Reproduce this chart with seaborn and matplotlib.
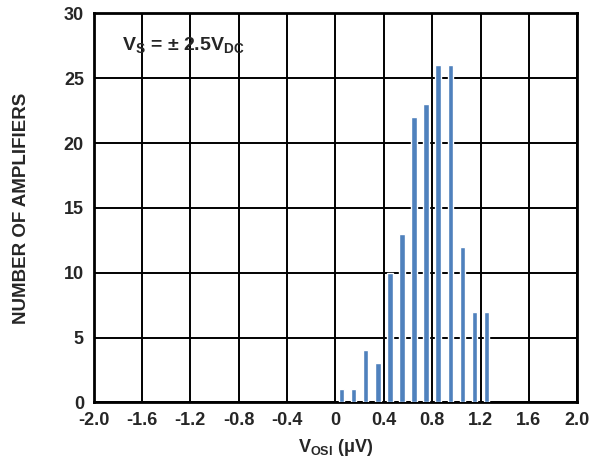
import numpy as np
import pandas as pd
import matplotlib
matplotlib.use("Agg")
import matplotlib.pyplot as plt
import seaborn as sns

# histogram bins (bin centres, uV) and counts
vosi_centers = [0.05, 0.15, 0.25, 0.35, 0.45, 0.55, 0.65, 0.75, 0.85, 0.95, 1.05, 1.15, 1.25]
amp_counts = [1, 1, 4, 3, 10, 13, 22, 23, 26, 26, 12, 7, 7]
x_ticks = [-2.0, -1.6, -1.2, -0.8, -0.4, 0, 0.4, 0.8, 1.2, 1.6, 2.0]
x_tick_labels = ["-2.0", "-1.6", "-1.2", "-0.8", "-0.4", "0", "0.4", "0.8", "1.2", "1.6", "2.0"]
y_ticks = [0, 5, 10, 15, 20, 25, 30]

sns.set_style("white")
plt.rcParams['font.family'] = ['Liberation Sans', 'DejaVu Sans']
plt.rcParams['mathtext.fontset'] = 'custom'
plt.rcParams['mathtext.rm'] = 'Liberation Sans:bold'
plt.rcParams['mathtext.bf'] = 'Liberation Sans:bold'
plt.rcParams['mathtext.it'] = 'Liberation Sans:bold'
plt.rcParams['mathtext.default'] = 'bf'

df = pd.DataFrame({'vosi': vosi_centers, 'count': amp_counts})

fig = plt.figure(figsize=(5.89, 4.63), dpi=100)
ax = fig.add_axes([0.159, 0.131, 0.821, 0.840])

sns.barplot(data=df, x='vosi', y='count', native_scale=True, width=0.46,
            color='#4F81BD', saturation=1, ax=ax, zorder=3)

ax.set_xlim(-2.0, 2.0)
ax.set_ylim(0, 30)
ax.set_xticks(x_ticks)
ax.set_xticklabels(x_tick_labels)
ax.set_yticks(y_ticks)
ax.grid(True, color='black', linewidth=1.4, zorder=1)
ax.set_axisbelow(True)
for s in ax.spines.values():
    s.set_color('black')
    s.set_linewidth(2)

ax.tick_params(axis='both', length=0, labelsize=13, pad=7)
for lbl in ax.get_xticklabels() + ax.get_yticklabels():
    lbl.set_fontweight('bold')

ax.set_xlabel(r'V$_{\mathbf{OSI}}$ ($\mathbf{\mu}$V)', fontsize=13, fontweight='bold', labelpad=6)
ax.set_ylabel('NUMBER OF AMPLIFIERS', fontsize=13.5, fontweight='bold', labelpad=24)

ax.text(0.058, 0.92, r'V$_{\mathbf{S}}$ = ± 2.5V$_{\mathbf{DC}}$', transform=ax.transAxes,
        fontsize=14, fontweight='bold', va='center', ha='left')

plt.savefig("out.png", dpi=100)
